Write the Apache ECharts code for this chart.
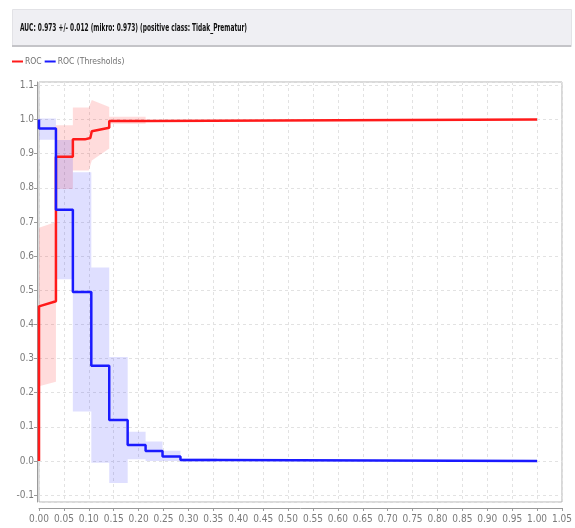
<!DOCTYPE html>
<html>
<head>
<meta charset="utf-8">
<script src="https://cdn.jsdelivr.net/npm/echarts@6/dist/echarts.min.js"></script>
<style>
  html, body { margin: 0; padding: 0; background: #ffffff; }
  #chart { width: 575px; height: 528px; }
</style>
</head>
<body>
<div id="chart"></div>
<script>
// ROC curve (mean over folds): false positive rate vs true positive rate
var rocFpr = [0, 0, 0.034, 0.034, 0.068, 0.068, 0.092, 0.092, 0.103, 0.106, 0.141, 0.141, 0.214, 0.214, 1.0];
var rocTpr = [0, 0.453, 0.468, 0.891, 0.891, 0.942, 0.942, 0.946, 0.946, 0.966, 0.976, 0.996, 0.996, 1.0, 1.0];

// ROC standard deviation band (upper / lower outline)
var rocBandX     = [0, 0.034, 0.034, 0.068, 0.068, 0.100, 0.106, 0.141, 0.141, 0.214];
var rocBandUpper = [0.683, 0.700, 0.983, 0.983, 1.035, 1.035, 1.057, 1.037, 1.008, 1.008];
var rocBandLower = [0.219, 0.232, 0.797, 0.797, 0.851, 0.851, 0.880, 0.915, 0.988, 0.988];

// Threshold curve: confidence threshold vs false positive rate
var thrFpr = [0, 0, 0.034, 0.034, 0.068, 0.068, 0.105, 0.105, 0.141, 0.141, 0.178, 0.178, 0.214, 0.214, 0.248, 0.248, 0.284, 0.284, 0.357, 0.357, 1.0];
var thrVal = [1.0, 0.974, 0.974, 0.736, 0.736, 0.495, 0.495, 0.279, 0.279, 0.120, 0.120, 0.047, 0.047, 0.029, 0.029, 0.013, 0.013, 0.003, 0.003, 0.0, 0.0];

// Threshold deviation band, one step per interval [edge i, edge i+1]
var thrBandEdges = [0, 0.034, 0.068, 0.105, 0.141, 0.178, 0.214, 0.248, 0.284, 0.357];
var thrBandHigh  = [1.003, 0.940, 0.846, 0.567, 0.305, 0.086, 0.057, 0.030, 0.008];
var thrBandLow   = [0.941, 0.532, 0.145, -0.005, -0.064, 0.005, 0.0, 0.0, -0.002];

// Axis ranges and labels
var xMin = 0, xMax = 1.05, xStep = 0.05;
var yMin = -0.12, yMax = 1.11, yStep = 0.1;

var titleText = 'AUC: 0.973 +/- 0.012 (mikro: 0.973) (positive class: Tidak_Prematur)';
var seriesNames = ['ROC', 'ROC (Thresholds)'];

var NARROW = "'Liberation Sans Narrow', 'DejaVu Sans Condensed', 'Roboto Condensed', 'Liberation Sans', sans-serif";

function zip(xs, ys) {
  return xs.map(function (x, i) { return [x, ys[i]]; });
}

// Outline of the stepped threshold band as upper and lower polylines
function stepOutline(edges, values) {
  var pts = [];
  for (var i = 0; i < values.length; i++) {
    pts.push([edges[i], values[i]]);
    pts.push([edges[i + 1], values[i]]);
  }
  return pts;
}

function bandPolygon(upperPts, lowerPts) {
  return upperPts.concat(lowerPts.slice().reverse());
}

var rocBandPoly = bandPolygon(zip(rocBandX, rocBandUpper), zip(rocBandX, rocBandLower));
var thrBandPoly = bandPolygon(stepOutline(thrBandEdges, thrBandHigh), stepOutline(thrBandEdges, thrBandLow));

function bandSeries(poly, fill, z) {
  return {
    type: 'custom',
    z: z,
    silent: true,
    clip: true,
    data: [[poly[0][0], poly[0][1]]],
    renderItem: function (params, api) {
      var pts = poly.map(function (p) { return api.coord(p); });
      return {
        type: 'polygon',
        shape: { points: pts },
        style: { fill: fill, stroke: null }
      };
    }
  };
}

// Fit the title into its bar width
function titleScale(text, font, target) {
  var c = document.createElement('canvas').getContext('2d');
  c.font = font;
  var w = c.measureText(text).width;
  return w > 0 ? target / w : 1;
}
var titleFont = "bold 11px " + NARROW;
var tScale = titleScale(titleText, titleFont, 227);

var chart = echarts.init(document.getElementById('chart'), null, { renderer: 'canvas' });

var option = {
  animation: false,
  backgroundColor: '#ffffff',
  graphic: [
    {
      type: 'rect',
      left: 12, top: 9,
      shape: { width: 559, height: 37 },
      style: { fill: '#efeff3', stroke: '#e2e2e6', lineWidth: 1 },
      z: 1
    },
    {
      type: 'rect',
      left: 12, top: 45,
      shape: { width: 559, height: 2 },
      style: { fill: '#c4c4c8' },
      z: 2
    },
    {
      type: 'text',
      x: 20, y: 28,
      scaleX: tScale,
      style: {
        text: titleText,
        font: titleFont,
        fill: '#111111',
        verticalAlign: 'middle'
      },
      z: 3
    }
  ],
  legend: {
    left: 12, top: 57,
    padding: 0,
    itemWidth: 11, itemHeight: 2,
    itemGap: 3,
    icon: 'rect',
    textStyle: { color: '#707070', fontSize: 8.5, fontFamily: NARROW, padding: [0, 0, 0, -3] },
    data: seriesNames
  },
  grid: {
    left: 39, right: 8, top: 82, bottom: 26,
    show: true,
    borderColor: '#b4b4b4',
    borderWidth: 1,
    backgroundColor: 'transparent'
  },
  xAxis: {
    type: 'value',
    min: xMin, max: xMax, interval: xStep,
    offset: 6,
    axisLine: { show: true, onZero: false, lineStyle: { color: '#9a9a9a', width: 1 } },
    axisTick: { show: true, length: 3, lineStyle: { color: '#9a9a9a' } },
    axisLabel: {
      color: '#7a7a7a', fontSize: 10, fontFamily: NARROW, margin: 6,
      formatter: function (v) { return v.toFixed(2); }
    },
    splitLine: { show: true, lineStyle: { color: '#e2e2e2', type: [3, 3], width: 1 } }
  },
  yAxis: {
    type: 'value',
    min: yMin, max: yMax,
    minInterval: yStep, maxInterval: yStep,
    offset: 2,
    axisLine: { show: true, onZero: false, lineStyle: { color: '#9a9a9a', width: 1 } },
    axisTick: { show: true, length: 3, lineStyle: { color: '#9a9a9a' } },
    axisLabel: {
      color: '#7a7a7a', fontSize: 10, fontFamily: NARROW, margin: 3,
      showMinLabel: false, showMaxLabel: false,
      formatter: function (v) { return v.toFixed(1); }
    },
    splitLine: { show: true, lineStyle: { color: '#e2e2e2', type: [3, 3], width: 1 } }
  },
  series: [
    bandSeries(rocBandPoly, 'rgba(255, 40, 40, 0.16)', 2),
    bandSeries(thrBandPoly, 'rgba(40, 40, 255, 0.15)', 2),
    {
      name: seriesNames[0],
      type: 'line',
      z: 4,
      data: zip(rocFpr, rocTpr),
      showSymbol: false,
      symbol: 'none',
      lineStyle: { color: '#ff1a1a', width: 2.5 },
      itemStyle: { color: '#ff1a1a' }
    },
    {
      name: seriesNames[1],
      type: 'line',
      z: 5,
      data: zip(thrFpr, thrVal),
      showSymbol: false,
      symbol: 'none',
      lineStyle: { color: '#1a1aff', width: 2.5 },
      itemStyle: { color: '#1a1aff' }
    }
  ]
};

chart.setOption(option);
</script>
</body>
</html>
